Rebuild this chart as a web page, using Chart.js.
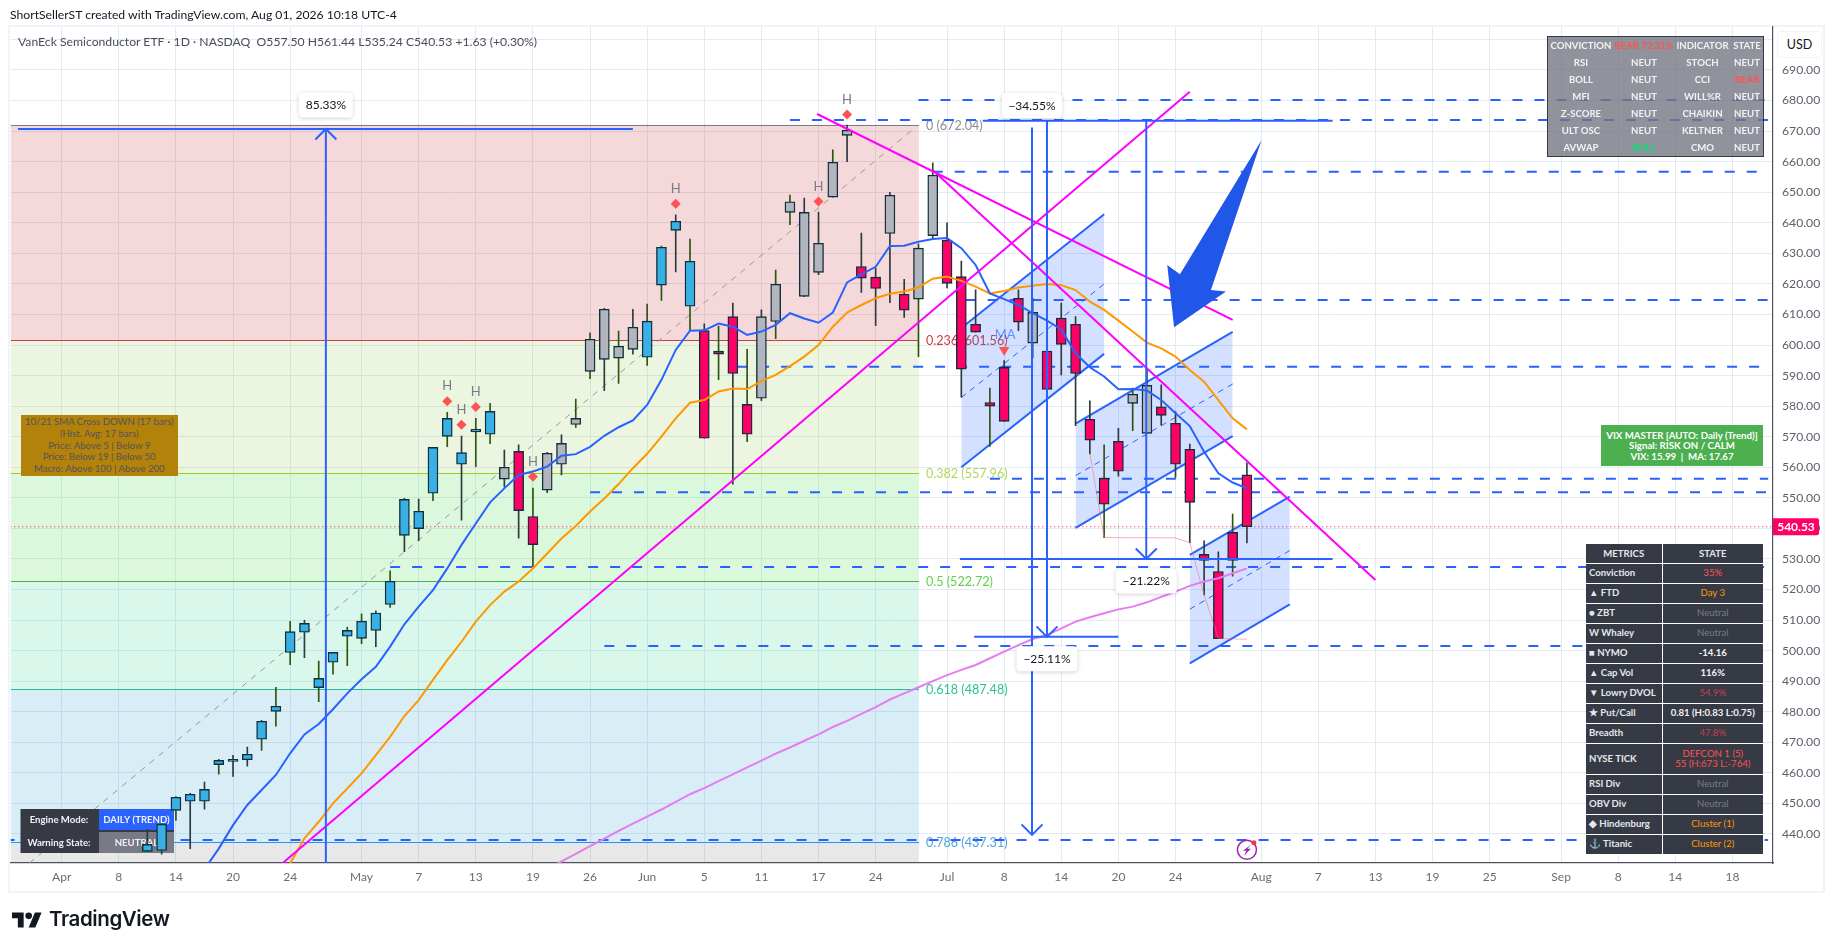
<!DOCTYPE html>
<html>
<head>
<meta charset="utf-8">
<title>SMH daily</title>
<script src="https://cdn.jsdelivr.net/npm/chart.js@4"></script>
<style>
  html, body { margin: 0; padding: 0; background: #fff; }
  body { width: 1835px; height: 951px; position: relative; overflow: hidden; font-family: Lato, sans-serif; }
  #frame { position: absolute; left: 8px; top: 25px; width: 1813px; height: 864px; border: 2px solid #f0f3fa; }
  canvas { position: absolute; left: 0; top: 0; }
  .txt { position: absolute; white-space: pre; }
  #byline { left: 10px; top: 7px; font-size: 12.2px; color: #131722; }
  #legend { left: 18px; top: 34px; font-size: 12.2px; color: #4a4e5a; }
  #usd { left: 1777px; top: 31px; width: 43px; height: 25px; line-height: 25px; text-align: center; font-size: 12.5px; color: #131722; background: #fff; border: 1px solid #f0f3fa; border-radius: 4px; }
  #logoText { left: 49px; top: 906px; font-family: Inter, sans-serif; font-weight: 600; font-size: 20.5px; letter-spacing: -0.4px; color: #131722; }
  #logo { position: absolute; left: 12px; top: 910px; }
  table { position: absolute; border-collapse: collapse; table-layout: fixed; font-size: 9.6px; }
  #signals { left: 1548px; top: 37px; width: 215px; height: 119px; background: rgba(116,119,131,.8); outline: 1px solid #363a45; color: #f2f2f5; text-align: center; font-weight: 700; white-space: nowrap; }
  #signals td { padding: 0; height: 17px; }
  #metrics { left: 1586px; top: 544px; width: 177px; background: #363a45; color: #e6e7ea; font-weight: 700; white-space: nowrap; }
  #metrics td { padding: 0 0 0 3px; height: 19px; border: 1px solid #fff; border-left: 0; border-top: 0; line-height: 10.5px; }
  #metrics td:last-child { text-align: center; padding: 0; border-right: 0; font-weight: 400; }
  #metrics th { height: 19px; padding: 0; border: 1px solid #fff; border-top: 0; border-left: 0; font-weight: 700; }
  #metrics th:last-child { border-right: 0; }
  .red { color: #ff5252; } .dim { color: #c9404c; } .org { color: #ff9800; } .off { color: #787b86; } .grn { color: #00e676; }
  #metrics td.wht { color: #f2f2f5; font-weight: 700; }
  #vix { left: 1601px; top: 425px; width: 162px; height: 41px; background: #4caf50; color: #fff; text-align: center; font-size: 9.7px; line-height: 10.2px; display: flex; align-items: center; justify-content: center; font-weight: 700; }
  #cross { left: 20.5px; top: 415px; width: 157.5px; height: 61px; background: #b2820a; color: #55525c; text-align: center; font-size: 9.6px; line-height: 11.8px; display: flex; align-items: center; justify-content: center; }
</style>
</head>
<body>
<div id="frame"></div>
<canvas id="chart" width="1835" height="951"></canvas>

<div class="txt" id="byline">ShortSellerST created with TradingView.com, Aug 01, 2026 10:18 UTC-4</div>
<div class="txt" id="legend">VanEck Semiconductor ETF · 1D · NASDAQ  O557.50 H561.44 L535.24 C540.53 +1.63 (+0.30%)</div>
<div class="txt" id="usd">USD</div>

<div class="txt" id="cross">10/21 SMA Cross DOWN (17 bars)
(Hist. Avg: 17 bars)
Price: Above 5 | Below 9
Price: Below 19 | Below 50
Macro: Above 100 | Above 200</div>

<div class="txt" id="vix">VIX MASTER [AUTO: Daily (Trend)]
Signal: RISK ON / CALM
VIX: 15.99  |  MA: 17.67</div>

<table id="signals">
  <colgroup><col style="width:66px"><col style="width:60px"><col style="width:57px"><col style="width:32px"></colgroup>
  <tr><td>CONVICTION</td><td class="red">BEAR 72.31%</td><td>INDICATOR</td><td>STATE</td></tr>
  <tr><td>RSI</td><td>NEUT</td><td>STOCH</td><td>NEUT</td></tr>
  <tr><td>BOLL</td><td>NEUT</td><td>CCI</td><td class="red">BEAR</td></tr>
  <tr><td>MFI</td><td>NEUT</td><td>WILL%R</td><td>NEUT</td></tr>
  <tr><td>Z-SCORE</td><td>NEUT</td><td>CHAIKIN</td><td>NEUT</td></tr>
  <tr><td>ULT OSC</td><td>NEUT</td><td>KELTNER</td><td>NEUT</td></tr>
  <tr><td>AVWAP</td><td class="grn">BULL</td><td>CMO</td><td>NEUT</td></tr>
</table>

<table id="metrics">
  <colgroup><col style="width:76px"><col style="width:101px"></colgroup>
  <tr><th>METRICS</th><th>STATE</th></tr>
  <tr><td>Conviction</td><td class="red">35%</td></tr>
  <tr><td>▲ FTD</td><td class="org">Day 3</td></tr>
  <tr><td>● ZBT</td><td class="off">Neutral</td></tr>
  <tr><td>W Whaley</td><td class="off">Neutral</td></tr>
  <tr><td>■ NYMO</td><td class="wht">-14.16</td></tr>
  <tr><td>▲ Cap Vol</td><td class="wht">116%</td></tr>
  <tr><td>▼ Lowry DVOL</td><td class="dim">54.9%</td></tr>
  <tr><td>★ Put/Call</td><td class="wht">0.81 (H:0.83 L:0.75)</td></tr>
  <tr><td>Breadth</td><td class="dim">47.8%</td></tr>
  <tr><td style="height:30px">NYSE TICK</td><td class="red">DEFCON 1 (5)<br>55 (H:673 L:-764)</td></tr>
  <tr><td>RSI Div</td><td class="off">Neutral</td></tr>
  <tr><td>OBV Div</td><td class="off">Neutral</td></tr>
  <tr><td>◆ Hindenburg</td><td class="org">Cluster (1)</td></tr>
  <tr><td><span style="color:#2f8fd0">⚓</span> Titanic</td><td class="org">Cluster (2)</td></tr>
</table>

<svg id="logo" width="30" height="20" viewBox="0 2 36 22"><path fill="#131722" d="M14 22H7V11H0V4h14v18zM28 22h-8l7.5-18h8L28 22z"/><circle fill="#131722" cx="20" cy="8" r="4"/></svg>
<div class="txt" id="logoText">TradingView</div>

<script>
// === Axis ===
// bar 0 is Apr 1 2026, one step per trading day
const tickBars = [0, 4, 8, 12, 16, 21, 25, 29, 33, 37, 41, 45, 49, 53, 57, 62, 66, 70, 74, 78, 84, 88, 92, 96, 100, 105, 109, 113, 117];
const tickLabels = ['Apr', '8', '14', '20', '24', 'May', '7', '13', '19', '26', 'Jun', '5', '11', '17', '24', 'Jul', '8', '14', '20', '24', 'Aug', '7', '13', '19', '25', 'Sep', '8', '14', '18'];
const priceTicks = [440, 450, 460, 470, 480, 490, 500, 510, 520, 530, 540, 550, 560, 570, 580, 590, 600, 610, 620, 630, 640, 650, 660, 670, 680, 690, 700];

// === Candles, first one is bar 6 (Apr 10) ===
const firstCandle = 6;
const opens = [434.3, 434.6, 447.7, 450.7, 450.7, 462.7, 463.7, 464.3, 471, 480.1, 499.4, 506, 487.9, 496.2, 504.7, 504, 506.6, 515.1, 537.7, 539.9,
  551.5, 570.1, 561, 571.6, 570.8, 556.1, 565.2, 543.9, 552.5, 561, 574, 591.4, 595.3, 595.7, 598.6, 596, 619.6, 637.5, 612.7, 604.7,
  598, 609.3, 580.6, 582.6, 607.7, 643.4, 615.9, 623.8, 648.4, 668.6, 625.7, 622.2, 636.5, 616.6, 615, 635.8, 634.3, 622.4, 606.8, 581.2,
  592.7, 615.3, 600.6, 598, 608.8, 606.8, 575.7, 556.4, 568.5, 580.9, 571.1, 579.8, 574.4, 565.9, 531.5, 525.9, 538.7, 557.5];
const highs = [441.5, 443.2, 452.2, 453.3, 457, 464.4, 465.7, 468.4, 477.2, 488, 509.6, 509.9, 496.6, 499.4, 507.7, 512, 513, 526.1, 549.8, 549.6,
  566.5, 578, 570.2, 576, 580.9, 565.6, 567.3, 553.2, 564.9, 570.6, 582.3, 604, 612, 604.6, 611.7, 613.4, 632.4, 642.6, 634.7, 606.9,
  606.2, 613.7, 598.6, 611.5, 624.5, 649.1, 648.1, 643.5, 663.9, 672, 636.6, 625.1, 650, 621.5, 633.1, 659.6, 640, 627.5, 618.1, 585.9,
  594.9, 618.1, 615.3, 600.6, 613.7, 609.3, 581.7, 567.3, 572.7, 585.9, 591.8, 587, 578.2, 567.6, 535.9, 532.3, 544.7, 561.44];
const lows = [434.3, 433.4, 444.4, 435.2, 448.1, 459.6, 458.8, 462.2, 467.3, 475.3, 495.4, 497.7, 483.3, 492.3, 495.1, 502.3, 501.3, 514.1, 532.4, 536,
  549.1, 566.7, 542.7, 560.2, 567.7, 553.6, 536.8, 527.5, 551.7, 557.5, 573, 589, 585.1, 587.4, 597, 593.3, 614.6, 623.9, 604.7, 569.5,
  588.7, 554.5, 568.4, 581.8, 602.1, 639.4, 615.8, 623, 648.4, 660, 617.2, 606.3, 613.9, 609, 596.2, 634.7, 618.7, 582.9, 604.2, 566.8,
  575, 604.7, 595.9, 582.6, 590.2, 573.6, 564.4, 537, 557.1, 572, 571, 573.8, 556.7, 535.3, 518.2, 503.9, 524.4, 535.24];
const closes = [436.6, 443.2, 452, 453, 454.6, 464.1, 464.4, 466.1, 476.9, 481.8, 506.2, 508.9, 490.9, 499.4, 506.6, 509.6, 512.3, 522.7, 549.5, 545.6,
  566.5, 576, 564.8, 572.4, 578.3, 560, 545.8, 534.7, 564.6, 567.8, 576, 601.9, 611.7, 599.6, 605.8, 607.8, 632, 640.5, 627.4, 569.5,
  597, 590.7, 570.8, 609.3, 619.9, 646.9, 643.4, 633.3, 659.8, 670.3, 621.9, 618.5, 649, 611.4, 631.7, 655.6, 620.2, 592.1, 604.2, 580,
  575, 607.5, 610.7, 585.5, 600.2, 590.7, 568.9, 547.9, 558.7, 583.9, 586.8, 577, 561, 548.5, 529.5, 503.9, 529.5, 540.53];
// b blue, g grey, p pink
const candleKinds = 'bbbbbbbbbbbbbbbbbbbbbbbbb' + 'gpp' + 'ggggggg' + 'bbbb' + 'pppp' + 'ggggggg' + 'pp' + 'g' + 'p' + 'gg' + 'pppppp' + 'g' + 'pppppp' + 'gg' + 'ppppppp';
const greenWicks = [8, 11, 14, 15, 16, 18, 19, 20, 21, 23, 26, 27, 29, 30, 33, 36, 37, 39, 41, 42, 44, 46, 48, 50, 51, 54, 60, 61, 65, 68, 73, 75, 76, 82];
const bodyColors = { b: '#38b0e6', g: '#b2b5be', p: '#ff0066' };

// === Moving averages ===
const fastStart = 10;
const fastMA = [428.5, 435.2, 442.9, 449.5, 454.4, 459.3, 466.4, 472.6, 476, 480.8, 486, 490.6, 494.7, 501.3, 508.6, 514.4, 519.8, 526.9, 534.6, 541.6,
  548.5, 553.1, 557.5, 558.6, 560.2, 563.8, 564.3, 566.7, 570.3, 573.1, 575.3, 580.4, 588.6, 598.4, 604.7, 604.8, 607, 606, 603.3, 604.4,
  606.6, 610.4, 608.7, 607.3, 610.6, 620.5, 623.1, 625.6, 632.4, 632.5, 633.8, 634.7, 635, 631.7, 626.2, 616.9, 615, 613.1, 610.4, 608,
  605.1, 597.3, 592.7, 589.7, 585.5, 585.6, 585.1, 582, 577.7, 573.5, 565.1, 558, 555, 553.1];
const slowStart = 16;
const slowMA = [430.4, 438.6, 444, 450, 454.9, 459.8, 465.8, 471.8, 478.6, 483.8, 490.4, 496.9, 502.9, 509.5, 514.9, 519.3, 522.6, 526.9, 531.8, 536.7,
  540.8, 545.5, 549.8, 554.5, 559.7, 564.4, 570, 576, 581.1, 582, 584.8, 585.8, 585.6, 588.2, 590.2, 593.1, 596.2, 600, 606, 610.6,
  613.1, 615.3, 616.8, 617.5, 618.9, 621.7, 622.4, 621, 619.1, 616.9, 617.7, 618.8, 619.4, 620, 619.6, 618, 614.2, 611.5, 608, 604.4,
  600.8, 598.9, 596.2, 591.8, 588, 582, 576, 572.4];
const longStart = 34;
const longMA = [428.5, 431, 433.5, 436, 438.5, 441, 443.4, 445.7, 448, 450.5, 453, 455, 457.3, 459.5, 461.8, 464, 466.3, 468.3, 470.5, 472.6,
  475, 477, 479.3, 481.5, 484, 486, 488, 490, 492, 493.7, 495.3, 497.5, 499.7, 501.8, 503.8, 505.1, 507.3, 509.5, 510.9, 512.2,
  513.5, 514.4, 515.8, 517.6, 519.3, 521.2, 522.6, 523.7, 525.3, 526.9];
// thin salmon guide under the late July lows
const lowGuideBars = [72, 73, 78, 79, 80, 81, 83];
const lowGuide = [564.6, 537, 536.9, 535.3, 518.2, 504, 503.7];

// === Signal markers ===
const highBars = [27, 28, 29, 33, 43, 53, 55];
const highPrices = [581.6, 573.9, 579.7, 556.9, 646.2, 647, 675.4];
const maSignalBar = 66;
const maSignalPrice = 598.4;

// === Fibonacci retracement ===
const fibLevels = ['0', '0.236', '0.382', '0.5', '0.618', '0.786'];
const fibPrices = [672.04, 601.56, 557.96, 522.72, 487.48, 437.31];
const fibLineColors = ['#787b86', '#c94040', '#9bcf1e', '#4caf50', '#2bb98f', '#2196f3'];
const fibTextColors = ['#8a8d97', '#d23c3c', '#b3d65c', '#5fd04a', '#2bc48f', '#4ba3dd'];
const fibFills = ['rgba(200,50,60,.19)', 'rgba(139,195,74,.17)', 'rgba(76,220,80,.2)', 'rgba(38,210,140,.17)', 'rgba(30,150,200,.17)', 'rgba(80,80,80,.13)'];
const fibEndBar = 60.03;
const fibDiagonal = [[-2.25, 430.5], [59.63, 670.6]];

// === Drawings ===
// dashed levels: start bar, price
const dashedLevels = [[60, 680.2], [51, 673.6], [61, 656.7], [63.3, 614.7], [47.3, 592.9], [65, 556.2], [37, 551.8], [23, 527.4], [38, 501.5], [-4, 438]];
const dashedEndBar = 119.5;
const trendLines = [[15.48, 430.5, 79, 682.9], [52.9, 675.6, 82, 608.2], [61, 657.3, 92, 523.1]];
// start bar, end bar, upper start, upper end, lower start, lower end
const channels = [[63, 73, 605.6, 642.8, 560, 597.1], [71, 82, 574.3, 604.3, 540.2, 570.2], [79, 86, 531.3, 550.4, 495.8, 515.1]];
const rangeLines = [[18.5, 430, 18.5, 670.7], [-3.06, 670.7, 40, 670.7], [67.95, 671.2, 67.95, 439.7], [69, 673.4, 69, 504.5], [75.95, 673.4, 75.95, 530],
  [64.5, 673.4, 89, 673.4], [63.9, 504.5, 74, 504.5], [62.9, 530, 89, 530]];
// bar, price, direction
const arrowHeads = [[18.5, 670.7, -1], [67.95, 439.7, 1], [69, 504.5, 1], [75.95, 530, 1]];
// bar, price, text, pixel offset, box width
const rangeLabels = [[18.5, 670.7, '85.33%', -24, 54], [67.95, 671.2, '\u221234.55%', -22, 60], [69, 504.5, '\u221225.11%', 22, 61], [75.95, 530, '\u221221.22%', 22, 61]];
const bigArrow = [[77.9, 605.8], [77.42, 626.2], [78.31, 623.2], [84.03, 667.1], [80.48, 618], [81.53, 617.5]];
const lastPrice = 540.53;

const FONT = 'Lato, sans-serif';
const BLUE = '#2962ff';

function series(start, values) {
  return values.map((v, i) => ({ x: start + i, y: v }));
}

function lineSet(points, color, width, order, extra) {
  return Object.assign({ type: 'line', data: points, borderColor: color, borderWidth: width, pointRadius: 0, tension: 0, fill: false, order: order }, extra || {});
}

// === Datasets ===
const datasets = [];

dashedLevels.forEach(l => datasets.push(lineSet([{ x: l[0], y: l[1] }, { x: dashedEndBar, y: l[1] }], BLUE, 2, 60, { borderDash: [10, 12] })));
datasets.push(lineSet(fibDiagonal.map(p => ({ x: p[0], y: p[1] })), '#9598a1', 1, 62, { borderDash: [6, 6] }));
datasets.push(lineSet([{ x: -5, y: lastPrice }, { x: 120, y: lastPrice }], '#ff0066', 1, 58, { borderDash: [1, 3] }));

channels.forEach(c => {
  datasets.push(lineSet([{ x: c[0], y: c[2] }, { x: c[1], y: c[3] }], BLUE, 2, 50, { fill: '+1', backgroundColor: 'rgba(41,98,255,.2)' }));
  datasets.push(lineSet([{ x: c[0], y: c[4] }, { x: c[1], y: c[5] }], BLUE, 2, 50));
  datasets.push(lineSet([{ x: c[0], y: (c[2] + c[4]) / 2 }, { x: c[1], y: (c[3] + c[5]) / 2 }], BLUE, 1, 49, { borderDash: [6, 5] }));
});

datasets.push({
  type: 'bar', label: 'wicks', order: 30, grouped: false, barThickness: 1,
  data: highs.map((h, i) => ({ x: firstCandle + i, y: [lows[i], h] })),
  backgroundColor: highs.map((h, i) => greenWicks.includes(firstCandle + i) ? '#2c5510' : '#2e3a3c')
});
datasets.push({
  type: 'bar', label: 'bodies', order: 29, grouped: false, barThickness: 10,
  data: opens.map((o, i) => ({ x: firstCandle + i, y: [o, closes[i]] })),
  backgroundColor: opens.map((o, i) => bodyColors[candleKinds[i]]),
  borderColor: '#0f2f3a', borderWidth: 1.4, borderSkipped: false
});

datasets.push(lineSet(lowGuide.map((v, i) => ({ x: lowGuideBars[i], y: v })), 'rgba(242,110,120,.55)', 1, 20));
datasets.push(lineSet(series(longStart, longMA), '#e67cf0', 2, 18));
datasets.push(lineSet(series(slowStart, slowMA), '#ff9800', 2, 17));
datasets.push(lineSet(series(fastStart, fastMA), BLUE, 2, 16));
trendLines.forEach(t => datasets.push(lineSet([{ x: t[0], y: t[1] }, { x: t[2], y: t[3] }], '#ff00ff', 2, 12)));
rangeLines.forEach(r => datasets.push(lineSet([{ x: r[0], y: r[1] }, { x: r[2], y: r[3] }], BLUE, 2, 10)));

datasets.push(lineSet(highBars.map((b, i) => ({ x: b, y: highPrices[i] })), '#ff5252', 0, 8, { showLine: false, pointRadius: 5, pointStyle: 'rectRot', pointBackgroundColor: '#ff5252', pointBorderWidth: 0 }));
datasets.push(lineSet([{ x: maSignalBar, y: maSignalPrice }], '#ff5252', 0, 8, { showLine: false, pointRadius: 6, pointStyle: 'triangle', pointRotation: 180, pointBackgroundColor: '#ff5252', pointBorderWidth: 0 }));

// === Everything Chart.js has no element for ===
function drawEnginePanel(ctx) {
  const rows = [['Engine Mode:', 'DAILY (TREND)', 809, 21, '#2962ff'], ['Warning State:', 'NEUTRAL', 832, 21, '#787b86']];
  ctx.save();
  ctx.fillStyle = '#363a45';
  ctx.fillRect(20.5, 809, 78.5, 44);
  rows.forEach(r => {
    ctx.fillStyle = r[4];
    ctx.fillRect(99, r[2], 75, r[3]);
    ctx.fillStyle = '#f2f2f5';
    ctx.font = '700 9.6px ' + FONT;
    ctx.textAlign = 'center';
    ctx.textBaseline = 'middle';
    ctx.fillText(r[0], 59, r[2] + 11);
    ctx.fillText(r[1], 136.5, r[2] + 11);
  });
  ctx.fillStyle = '#363a45';
  ctx.fillRect(99, 830, 75, 2);
  ctx.restore();
}

const drawings = {
  id: 'drawings',
  beforeDatasetsDraw(chart) {
    const ctx = chart.ctx, x = chart.scales.x, y = chart.scales.y, area = chart.chartArea;
    const right = x.getPixelForValue(fibEndBar);
    ctx.save();
    ctx.beginPath();
    ctx.rect(area.left, area.top, area.width, area.height);
    ctx.clip();
    fibPrices.forEach((p, i) => {
      const top = y.getPixelForValue(p);
      const bottom = i < fibPrices.length - 1 ? y.getPixelForValue(fibPrices[i + 1]) : area.bottom;
      ctx.fillStyle = fibFills[i];
      ctx.fillRect(area.left, top, right - area.left, bottom - top);
    });
    ctx.lineWidth = 1;
    fibPrices.forEach((p, i) => {
      const py = Math.round(y.getPixelForValue(p)) + 0.5;
      ctx.strokeStyle = fibLineColors[i];
      ctx.beginPath();
      ctx.moveTo(area.left, py);
      ctx.lineTo(right, py);
      ctx.stroke();
      ctx.fillStyle = fibTextColors[i];
      ctx.font = '12.6px ' + FONT;
      ctx.textAlign = 'left';
      ctx.textBaseline = 'middle';
      ctx.fillText(fibLevels[i] + ' (' + p.toFixed(2) + ')', right + 7, py);
    });
    ctx.restore();
  },
  beforeDatasetDraw(chart, args) {
    if (chart.data.datasets[args.index].label === 'wicks') drawEnginePanel(chart.ctx);
  },
  afterDatasetsDraw(chart) {
    const ctx = chart.ctx, x = chart.scales.x, y = chart.scales.y;
    ctx.save();

    // open arrow heads at the end of the range lines
    ctx.strokeStyle = BLUE;
    ctx.lineWidth = 2;
    arrowHeads.forEach(a => {
      const px = x.getPixelForValue(a[0]), py = y.getPixelForValue(a[1]);
      ctx.beginPath();
      ctx.moveTo(px - 10.5, py - a[2] * 10.5);
      ctx.lineTo(px, py);
      ctx.lineTo(px + 10.5, py - a[2] * 10.5);
      ctx.stroke();
    });

    // big hand drawn arrow
    ctx.fillStyle = '#2057e8';
    ctx.beginPath();
    bigArrow.forEach((p, i) => {
      const px = x.getPixelForValue(p[0]), py = y.getPixelForValue(p[1]);
      if (i === 0) ctx.moveTo(px, py); else ctx.lineTo(px, py);
    });
    ctx.closePath();
    ctx.fill();

    // percent boxes
    rangeLabels.forEach(l => {
      const px = x.getPixelForValue(l[0]), py = y.getPixelForValue(l[1]) + l[3];
      ctx.save();
      ctx.shadowColor = 'rgba(0,0,0,.18)';
      ctx.shadowBlur = 4;
      ctx.shadowOffsetY = 1;
      ctx.fillStyle = '#fff';
      ctx.beginPath();
      ctx.roundRect(px - l[4] / 2, py - 12.5, l[4], 25, 4);
      ctx.fill();
      ctx.restore();
      ctx.fillStyle = '#131722';
      ctx.font = '12px ' + FONT;
      ctx.textAlign = 'center';
      ctx.textBaseline = 'middle';
      ctx.fillText(l[2], px, py + 0.5);
    });

    // H over every diamond, MA over the triangle
    ctx.font = '13px ' + FONT;
    ctx.textAlign = 'center';
    ctx.textBaseline = 'middle';
    ctx.fillStyle = '#787b86';
    highBars.forEach((b, i) => ctx.fillText('H', x.getPixelForValue(b), y.getPixelForValue(highPrices[i]) - 15));
    ctx.fillStyle = 'rgba(41,98,255,.65)';
    ctx.fillText('MA', x.getPixelForValue(maSignalBar) + 1, y.getPixelForValue(maSignalPrice) - 15);

    // lightning badge under the last bar
    const bx = x.getPixelForValue(83), by = y.getPixelForValue(434.8);
    ctx.strokeStyle = '#9c27b0';
    ctx.lineWidth = 1.5;
    ctx.beginPath();
    ctx.arc(bx, by, 9.5, 0, Math.PI * 2);
    ctx.stroke();
    ctx.fillStyle = '#9c27b0';
    ctx.beginPath();
    ctx.moveTo(bx + 4, by - 5);
    ctx.lineTo(bx - 4, by + 1);
    ctx.lineTo(bx - 0.5, by + 1);
    ctx.lineTo(bx - 3, by + 6);
    ctx.lineTo(bx + 4, by - 1);
    ctx.lineTo(bx + 0.5, by - 1);
    ctx.closePath();
    ctx.fill();
    ctx.fillStyle = '#f23645';
    ctx.beginPath();
    ctx.arc(bx + 7, by - 7, 2.5, 0, Math.PI * 2);
    ctx.fill();
    ctx.restore();
  },
  afterDraw(chart) {
    // last price tag on the axis
    const ctx = chart.ctx, area = chart.chartArea, py = chart.scales.y.getPixelForValue(lastPrice);
    ctx.save();
    ctx.fillStyle = '#ff0066';
    ctx.beginPath();
    ctx.roundRect(area.right, py - 8.5, 46, 17, [0, 2, 2, 0]);
    ctx.fill();
    ctx.fillStyle = '#fff';
    ctx.font = '700 12px ' + FONT;
    ctx.textAlign = 'center';
    ctx.textBaseline = 'middle';
    ctx.fillText(lastPrice.toFixed(2), area.right + 23, py + 0.5);
    ctx.restore();
  }
};

new Chart(document.getElementById('chart'), {
  type: 'bar',
  data: { datasets: datasets },
  plugins: [drawings],
  options: {
    responsive: false,
    animation: false,
    devicePixelRatio: 1,
    layout: { padding: { left: 10.7, top: 27, right: 12, bottom: 60 } },
    plugins: { legend: { display: false }, tooltip: { enabled: false } },
    events: [],
    scales: {
      x: {
        type: 'linear',
        offset: false,
        min: -3.57,
        max: 119.84,
        afterBuildTicks: s => { s.ticks = tickBars.map(v => ({ value: v })); },
        afterFit: s => { s.height = 28; },
        grid: { color: '#e3ebf2', drawTicks: false, offset: false },
        border: { color: '#50535e', width: 1.2 },
        ticks: {
          autoSkip: false, maxRotation: 0, padding: 7, color: '#6a6d78', font: { family: FONT, size: 12 },
          callback: v => tickLabels[tickBars.indexOf(v)]
        }
      },
      y: {
        position: 'right',
        min: 430.5,
        max: 704.07,
        afterBuildTicks: s => { s.ticks = priceTicks.map(v => ({ value: v })); },
        afterFit: s => { s.width = 50; },
        grid: { color: '#e3ebf2', drawTicks: false },
        border: { color: '#50535e', width: 1.2 },
        ticks: {
          autoSkip: false, padding: 9, color: '#5d606b', font: { family: FONT, size: 12.2 },
          callback: v => v === 700 ? '' : v.toFixed(2)
        }
      }
    }
  }
});
</script>
</body>
</html>
